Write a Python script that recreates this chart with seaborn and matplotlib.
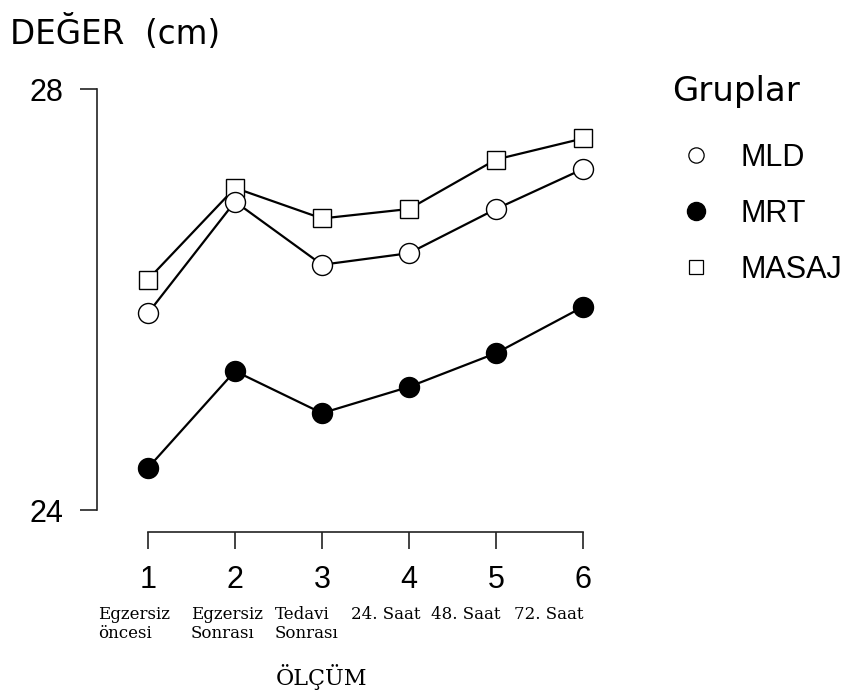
import matplotlib
matplotlib.use("Agg")
import matplotlib.pyplot as plt
from matplotlib.lines import Line2D
import seaborn as sns
import pandas as pd

# ---- data ----
olcum = [1, 2, 3, 4, 5, 6]
sub_labels = ["Egzersiz\nöncesi", "Egzersiz\nSonrası", "Tedavi\nSonrası",
              "24. Saat", "48. Saat", "72. Saat"]
groups = ["MLD", "MRT", "MASAJ"]
mld = [25.87, 26.93, 26.33, 26.44, 26.86, 27.24]
mrt = [24.40, 25.32, 24.92, 25.17, 25.49, 25.93]
masaj = [26.19, 27.06, 26.77, 26.86, 27.33, 27.53]
y_ticks = [24, 28]

df = pd.DataFrame({
    "olcum": olcum * 3,
    "deger": mld + mrt + masaj,
    "grup": [g for g in groups for _ in olcum],
})

sns.set_style("white")
plt.rcParams["font.family"] = ["Liberation Sans", "DejaVu Sans"]
plt.rcParams["text.color"] = "black"

fig = plt.figure(figsize=(8.54, 6.98), dpi=100)
ax = fig.add_axes([97 / 854, 1 - 532 / 698, (600 - 97) / 854, (532 - 72) / 698])

styles = {
    "MASAJ": dict(marker="s", markersize=13, markerfacecolor="white"),
    "MLD": dict(marker="o", markersize=14.4, markerfacecolor="white"),
    "MRT": dict(marker="o", markersize=14.4, markerfacecolor="black"),
}
for g in ["MASAJ", "MLD", "MRT"]:
    sns.lineplot(data=df[df["grup"] == g], x="olcum", y="deger", ax=ax,
                 color="black", linewidth=1.6, markeredgecolor="black",
                 markeredgewidth=1.0, legend=False, errorbar=None, **styles[g])

ax.set_xlim(1 - 51 / 87, 6 + 17 / 87)
ax.set_ylim(24 - 22 / 105.25, 28 + 17 / 105.25)
ax.set_xticks(olcum)
ax.set_xticklabels([str(v) for v in olcum])
ax.set_yticks(y_ticks)
ax.set_yticklabels([str(v) for v in y_ticks])
ax.set_xlabel("")
ax.set_ylabel("")
for s in ["top", "right"]:
    ax.spines[s].set_visible(False)
for s in ["left", "bottom"]:
    ax.spines[s].set_color("#222222")
    ax.spines[s].set_linewidth(1.2)
ax.spines["left"].set_bounds(24, 28)
ax.spines["bottom"].set_bounds(1, 6)
ax.tick_params(axis="both", direction="out", length=12, width=1.2,
               color="#222222", labelsize=22, labelcolor="black",
               bottom=True, left=True)
ax.tick_params(axis="y", pad=12.5)
ax.tick_params(axis="x", pad=11.5)

# sub labels under x ticks
offsets = [-10, -6, -11, -17, -22, -25]
for x, lab, off in zip(olcum, sub_labels, offsets):
    ax.annotate(lab, xy=(x, 0), xycoords=("data", "axes fraction"),
                xytext=(off, -53), textcoords="offset points",
                ha="center", va="top", fontsize=12, family="DejaVu Serif",
                linespacing=1.15, multialignment="left", color="black")

fig.text(322 / 854, 1 - 677 / 698, "ÖLÇÜM", ha="center", va="center",
         fontsize=16, family="DejaVu Serif", color="black")
fig.text(10 / 854, 1 - 33 / 698, "DEĞER  (cm)", ha="left", va="center",
         fontsize=23.5, family="DejaVu Sans", color="black")

handles = [
    Line2D([], [], linestyle="none", marker="o", markersize=11,
           markerfacecolor="white", markeredgecolor="black", markeredgewidth=0.9),
    Line2D([], [], linestyle="none", marker="o", markersize=13,
           markerfacecolor="black", markeredgecolor="black"),
    Line2D([], [], linestyle="none", marker="s", markersize=10,
           markerfacecolor="white", markeredgecolor="black", markeredgewidth=0.9),
]
leg = fig.legend(handles, groups, loc="upper left",
                 bbox_to_anchor=(672 / 854, 1 - 75 / 698), frameon=False,
                 fontsize=22, title="Gruplar", alignment="left",
                 handlelength=1.6, handletextpad=0.65, labelspacing=0.85,
                 borderpad=0, borderaxespad=0, labelcolor="black")
leg.get_title().set_fontsize(24.5)
leg.get_title().set_family("DejaVu Sans")
leg.get_title().set_color("black")
leg._legend_box.sep = 25

fig.savefig("out.png", dpi=100, facecolor="white")
